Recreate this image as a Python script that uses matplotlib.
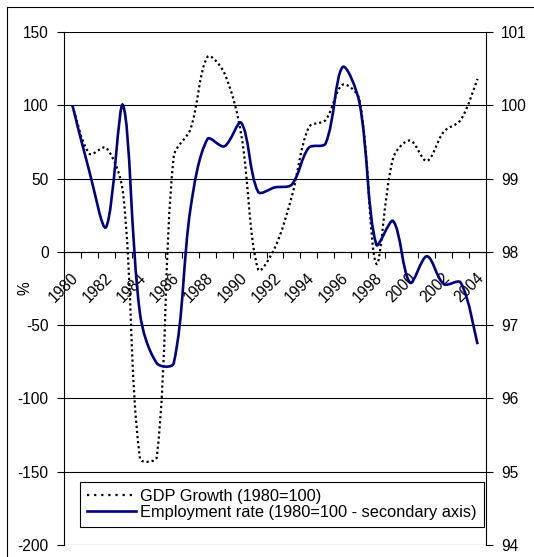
import matplotlib
matplotlib.use("Agg")
import matplotlib.pyplot as plt
from matplotlib.path import Path
from matplotlib.patches import PathPatch
from matplotlib.lines import Line2D
import matplotlib.transforms as mtransforms

plt.rcParams['font.family'] = ['Liberation Sans', 'DejaVu Sans']
FS = 11.2

# annual data
years = list(range(1980, 2005))
gdp = [100, 67, 71, 40, -141, -140, 65, 84, 133, 122, 80, -12, 3, 38, 85,
       90, 114, 104, -8, 64, 76, 62, 82, 90, 118]
employment = [100.00, 99.10, 98.34, 100.00, 97.16, 96.48, 96.48, 98.60, 99.54,
              99.44, 99.76, 98.82, 98.88, 98.92, 99.42, 99.48, 100.52, 100.04,
              98.10, 98.42, 97.58, 97.94, 97.56, 97.58, 96.74]

xtick_years = list(range(1980, 2006))
xtick_labels = [str(y) if y % 2 == 0 and y < 2005 else '' for y in xtick_years]
left_ticks = [-200, -150, -100, -50, 0, 50, 100, 150]
right_ticks = [94, 95, 96, 97, 98, 99, 100, 101]

gdp_label = 'GDP Growth (1980=100)'
emp_label = 'Employment rate (1980=100 - secondary axis)'

W, H = 534, 557
AX_W, AX_H = 422, 513


def smooth_path(xs, ys, xscale, yscale):
    # Excel-like smoothed line: bezier segments, tangents weighted by
    # the on-screen length of the neighbouring segments
    n = len(xs)

    def dist(i, j):
        return ((xs[j] - xs[i]) ** 2 * xscale ** 2 + (ys[j] - ys[i]) ** 2 * yscale ** 2) ** 0.5

    verts = [(xs[0], ys[0])]
    codes = [Path.MOVETO]
    for i in range(n - 1):
        a = i - 1 if i > 0 else i
        b = i + 2 if i + 2 < n else i + 1
        d1 = dist(i, i + 1)
        f1 = d1 / (3 * (dist(a, i) + d1)) if a != i else 1 / 6
        f2 = d1 / (3 * (d1 + dist(i + 1, b))) if b != i + 1 else 1 / 6
        c1 = (xs[i] + (xs[i + 1] - xs[a]) * f1, ys[i] + (ys[i + 1] - ys[a]) * f1)
        c2 = (xs[i + 1] - (xs[b] - xs[i]) * f2, ys[i + 1] - (ys[b] - ys[i]) * f2)
        verts += [c1, c2, (xs[i + 1], ys[i + 1])]
        codes += [Path.CURVE4] * 3
    return Path(verts, codes)


xs = [y + 0.5 for y in years]

fig = plt.figure(figsize=(W / 100, H / 100), dpi=100)
ax = fig.add_axes([64 / W, 12 / H, AX_W / W, AX_H / H])
ax2 = ax.twinx()

ax.set_xlim(1980, 2005)
ax.set_ylim(-200, 150)
ax2.set_ylim(94, 101)
px_x = AX_W / 25
px_left = AX_H / 350
px_right = AX_H / 7

dot_style = (0, (1, 1.3))
gdp_patch = PathPatch(smooth_path(xs, gdp, px_x, px_left), fill=False,
                      edgecolor='black', lw=1.6, linestyle=dot_style,
                      capstyle='butt', zorder=3)
ax.add_patch(gdp_patch)
emp_patch = PathPatch(smooth_path(xs, employment, px_x, px_right), fill=False,
                      edgecolor='#000080', lw=1.9, zorder=3)
ax2.add_patch(emp_patch)

ax.set_yticks(left_ticks)
ax.set_yticklabels([str(t) for t in left_ticks])
ax2.set_yticks(right_ticks)
ax2.set_yticklabels([str(t) for t in right_ticks])
ax.grid(axis='y', color='black', lw=0.8)
ax.set_axisbelow(True)

ax.set_xticks(xtick_years)
ax.set_xticklabels(xtick_labels)
ax.tick_params(axis='x', direction='out', length=4, width=0.8, pad=9,
               labelrotation=45, labelsize=FS)
ax.tick_params(axis='y', direction='out', length=5, width=0.8, pad=6, labelsize=FS)
ax2.tick_params(axis='y', direction='out', length=5, width=0.8, pad=6, labelsize=FS)
shift = mtransforms.ScaledTranslation(2 / 100, 0, fig.dpi_scale_trans)
for lab in ax.get_xticklabels():
    lab.set_horizontalalignment('right')
    lab.set_verticalalignment('top')
    lab.set_transform(lab.get_transform() + shift)

ax.spines['bottom'].set_position(('data', 0))
ax.spines['top'].set_visible(False)
ax.spines['right'].set_visible(False)
for s in ['left', 'top', 'bottom']:
    ax2.spines[s].set_visible(False)
for sp in [ax.spines['left'], ax.spines['bottom'], ax2.spines['right']]:
    sp.set_linewidth(0.8)

ax.set_ylabel('%', fontsize=FS)
ax.yaxis.set_label_coords(-0.075, 0.5)

handles = [Line2D([], [], color='black', lw=1.6, linestyle=(0, (1, 2.2))),
           Line2D([], [], color='#000080', lw=1.9)]
leg = ax2.legend(handles, [gdp_label, emp_label], loc='upper left',
                 bbox_to_anchor=(16 / AX_W, 63 / AX_H), borderaxespad=0,
                 fontsize=11.8, frameon=True, fancybox=False, framealpha=1,
                 edgecolor='black', handlelength=3.0, handletextpad=0.25,
                 borderpad=0.42, labelspacing=0.05)
leg.get_frame().set_linewidth(0.8)

# outer chart border
fig.add_artist(Line2D([7 / W, 7 / W], [0, 1 - 7 / H], color='black', lw=0.8))
fig.add_artist(Line2D([7 / W, 1], [1 - 7 / H, 1 - 7 / H], color='black', lw=0.8))

fig.savefig('out.png', dpi=100)
